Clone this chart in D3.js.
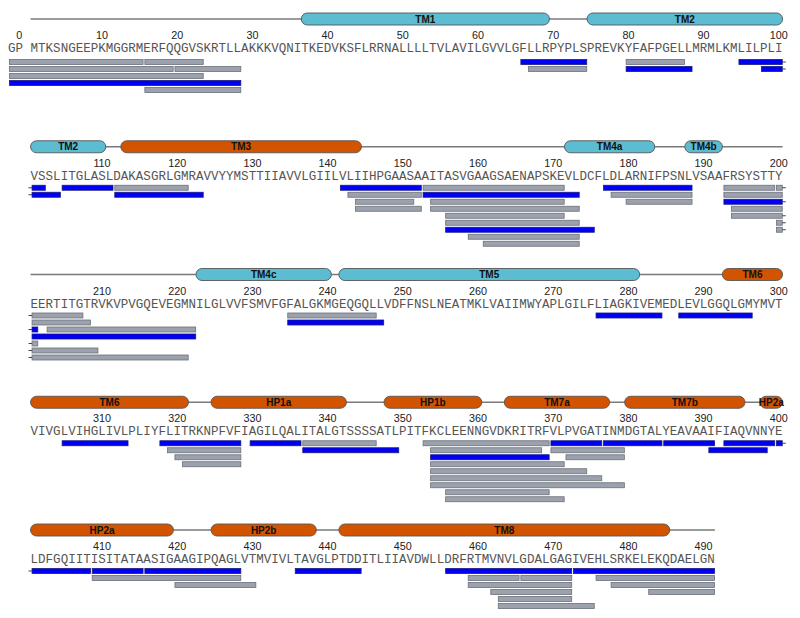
<!DOCTYPE html>
<html><head><meta charset="utf-8">
<script src="https://cdn.jsdelivr.net/npm/d3@7"></script>
<style>html,body{margin:0;padding:0;background:#fff}</style>
</head><body>
<svg id="chart" width="800" height="618"></svg>
<script>
// ---------- data ----------
const seqRows = [
  "GP MTKSNGEEPKMGGRMERFQQGVSKRTLLAKKKVQNITKEDVKSFLRRNALLLLTVLAVILGVVLGFLLRPYPLSPREVKYFAFPGELLMRMLKMLILPLI",
  "VSSLITGLASLDAKASGRLGMRAVVYYMSTTIIAVVLGIILVLIIHPGAASAAITASVGAAGSAENAPSKEVLDCFLDLARNIFPSNLVSAAFRSYSTTY",
  "EERTITGTRVKVPVGQEVEGMNILGLVVFSMVFGFALGKMGEQGQLLVDFFNSLNEATMKLVAIIMWYAPLGILFLIAGKIVEMEDLEVLGGQLGMYMVT",
  "VIVGLVIHGLIVLPLIYFLITRKNPFVFIAGILQALITALGTSSSSATLPITFKCLEENNGVDKRITRFVLPVGATINMDGTALYEAVAAIFIAQVNNYE",
  "LDFGQIITISITATAASIGAAGIPQAGLVTMVIVLTAVGLPTDDITLIIAVDWLLDRFRTMVNVLGDALGAGIVEHLSRKELEKQDAELGN"
];
const rowFirst = [-1, 101, 201, 301, 401];
const rowLast  = [100, 200, 300, 400, 491];
const tickLabels = [
  [0,10,20,30,40,50,60,70,80,90,100],
  [110,120,130,140,150,160,170,180,190,200],
  [210,220,230,240,250,260,270,280,290,300],
  [310,320,330,340,350,360,370,380,390,400],
  [410,420,430,440,450,460,470,480,490]
];
// helices: [name, start, end, kind]
const helices = [
  ["TM1",37,69,"c"], ["TM2",75,110,"c"], ["TM3",113,144,"o"], ["TM4a",172,183,"c"],
  ["TM4b",188,192,"c"], ["TM4c",223,240,"c"], ["TM5",242,281,"c"], ["TM6",293,321,"o"],
  ["HP1a",325,342,"o"], ["HP1b",348,360,"o"], ["TM7a",364,377,"o"], ["TM7b",380,395,"o"],
  ["HP2a",398,419,"o"], ["HP2b",425,438,"o"], ["TM8",442,485,"o"]
];
// peptides: [start, end, lane, kind]  b = blue, g = gray
const peptides = [
  [-1,15,0,"g"],[16,23,0,"g"],[-1,19,1,"g"],[20,28,1,"g"],[-1,23,2,"g"],[-1,28,3,"b"],[16,28,4,"g"],
  [66,74,0,"b"],[67,74,1,"g"],[80,87,0,"g"],[80,88,1,"b"],[95,102,0,"b"],[98,104,1,"b"],
  [105,111,0,"b"],[112,121,0,"g"],[112,123,1,"b"],
  [142,152,0,"b"],[153,171,0,"g"],[143,152,1,"g"],[153,173,1,"b"],[144,151,2,"g"],[154,171,2,"g"],
  [144,152,3,"g"],[154,173,3,"g"],[156,171,4,"g"],[156,173,5,"g"],[156,175,6,"b"],[159,173,7,"g"],[161,173,8,"g"],
  [177,188,0,"b"],[178,188,1,"g"],[180,188,2,"g"],
  [193,199,0,"g"],[200,207,0,"g"],[193,200,1,"g"],[193,201,2,"b"],[194,200,3,"g"],[194,201,4,"g"],
  [200,209,5,"g"],[200,221,6,"g"],
  [201,208,1,"g"],[203,222,2,"g"],[201,222,3,"b"],
  [235,246,0,"g"],[235,247,1,"b"],[276,284,0,"b"],[287,296,0,"b"],
  [305,313,0,"b"],[318,328,0,"b"],[319,328,1,"g"],[320,328,2,"g"],[321,328,3,"g"],
  [330,336,0,"b"],[337,346,0,"g"],[337,349,1,"b"],
  [353,369,0,"g"],[370,376,0,"b"],[377,384,0,"b"],[385,391,0,"b"],[393,399,0,"b"],[400,408,0,"b"],
  [354,368,1,"g"],[370,379,1,"g"],[391,398,1,"b"],
  [354,369,2,"b"],[372,379,2,"g"],[354,371,3,"g"],[354,374,4,"g"],[354,376,5,"g"],[354,379,6,"g"],
  [356,369,7,"g"],[356,371,8,"g"],
  [409,415,0,"b"],[416,428,0,"b"],[436,444,0,"b"],[409,428,1,"g"],[420,430,2,"g"],
  [456,472,0,"b"],[473,491,0,"b"],[459,465,1,"g"],[466,472,1,"g"],[476,491,1,"g"],
  [459,472,2,"g"],[478,491,2,"g"],[462,472,3,"g"],[483,491,3,"g"],[463,472,4,"g"],[463,475,5,"g"]
];

// ---------- layout ----------
const CW = 7.52, X0 = 8;
const x = d3.scaleBand().domain(d3.range(103)).range([X0, X0 + 103 * CW]).padding(0);
const bw = x.bandwidth();
const col = n => n <= 0 ? n + 1 : ((n - 1) % 100) + 3;
const rowY = d3.scaleLinear().domain([0, 4]).range([19, 530]);
const colors = { c: "#5bbcd2", o: "#d35400" };
const barFill = { b: "#0000f5", g: "#9ca2ad" };
const barStroke = { b: "#1a1a80", g: "#6c7079" };

const svg = d3.select("#chart");
svg.append("rect").attr("width", 800).attr("height", 618).attr("fill", "#fff");

seqRows.forEach((seq, r) => {
  const g = svg.append("g").attr("transform", `translate(0,${rowY(r)})`);
  const lastCol = col(rowLast[r]);
  // track line
  g.append("line").attr("x1", x(3)).attr("x2", x(lastCol) + bw)
    .attr("y1", 0).attr("y2", 0).attr("stroke", "#7a7a7a").attr("stroke-width", 1.6);
  // helices
  helices.forEach(([name, s, e, k]) => {
    const s2 = Math.max(s, rowFirst[r]), e2 = Math.min(e, rowLast[r]);
    if (s2 > e2) return;
    const x1 = x(col(s2)), x2 = x(col(e2)) + bw;
    g.append("rect").attr("x", x1).attr("y", -6).attr("width", x2 - x1).attr("height", 12)
      .attr("rx", 6).attr("ry", 6).attr("fill", colors[k]).attr("stroke", "#555").attr("stroke-width", 0.9);
    g.append("text").attr("x", (x1 + x2) / 2).attr("y", 3.6).attr("text-anchor", "middle")
      .attr("font-family", "Liberation Sans, Arial, sans-serif").attr("font-weight", "bold")
      .attr("font-size", 10).attr("fill", "#111").text(name);
  });
  // tick labels
  const tickScale = t => x(col(t)) + bw / 2;
  const axG = g.append("g").attr("transform", "translate(0,20)");
  axG.selectAll("text").data(tickLabels[r]).join("text")
    .attr("x", d => tickScale(d)).attr("y", 0).attr("text-anchor", "middle")
    .attr("font-family", "Liberation Sans, Arial, sans-serif").attr("font-size", 10.8)
    .attr("fill", "#222").text(d => d);
  // sequence
  const startCol = r === 0 ? 0 : 3;
  g.append("text").attr("x", x(startCol)).attr("y", 33)
    .attr("font-family", "Liberation Mono, Courier New, monospace").attr("font-size", 12.53)
    .attr("textLength", seq.length * CW).attr("lengthAdjust", "spacing")
    .attr("fill", "#555").style("white-space", "pre").text(seq);
  // peptides
  const barTop = r === 0 ? 40.5 : 38.5;
  peptides.forEach(([s, e, lane, k]) => {
    const s2 = Math.max(s, rowFirst[r]), e2 = Math.min(e, rowLast[r]);
    if (s2 > e2) return;
    const x1 = x(col(s2)) + 1.5, x2 = x(col(e2)) + bw - 0.3;
    const y = barTop + lane * 7;
    g.append("rect").attr("x", x1).attr("y", y).attr("width", x2 - x1).attr("height", 5)
      .attr("fill", barFill[k]).attr("stroke", barStroke[k]).attr("stroke-width", 0.8);
    if (s < rowFirst[r]) {
      g.append("line").attr("x1", x1 - 3.5).attr("x2", x1).attr("y1", y + 2.5).attr("y2", y + 2.5)
        .attr("stroke", "#444").attr("stroke-width", 1);
    }
    if (e > rowLast[r]) {
      g.append("line").attr("x1", x2).attr("x2", x2 + 3.5).attr("y1", y + 2.5).attr("y2", y + 2.5)
        .attr("stroke", "#444").attr("stroke-width", 1);
    }
  });
});
</script>
</body></html>
